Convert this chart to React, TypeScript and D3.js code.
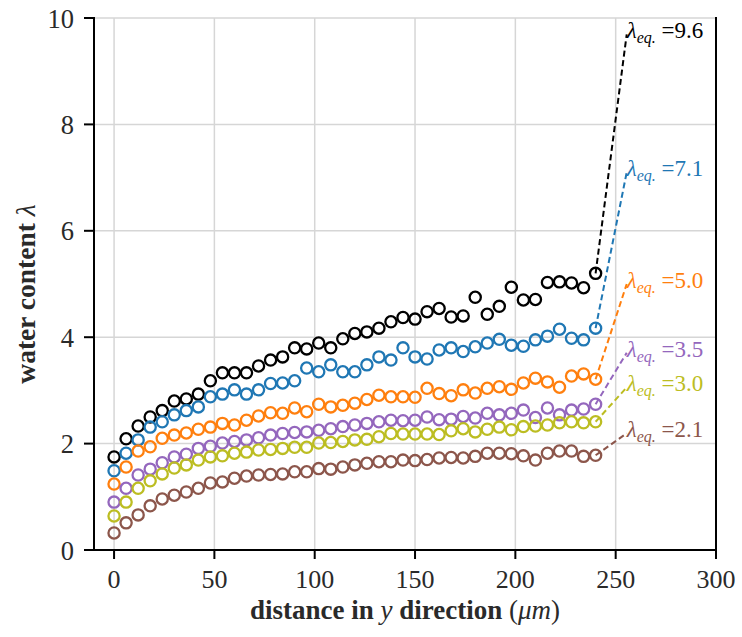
import React from "react";
import * as d3 from "d3";

const distances = [0, 6, 12, 18, 24, 30, 36, 42, 48, 54, 60, 66, 72, 78, 84, 90, 96, 102, 108, 114, 120, 126, 132, 138, 144, 150, 156, 162, 168, 174, 180, 186, 192, 198, 204, 210, 216, 222, 228, 234, 240];

const lambda96 = [1.75, 2.09, 2.33, 2.50, 2.62, 2.80, 2.84, 2.93, 3.18, 3.33, 3.33, 3.33, 3.46, 3.57, 3.63, 3.80, 3.78, 3.89, 3.80, 3.97, 4.07, 4.10, 4.17, 4.29, 4.37, 4.34, 4.48, 4.54, 4.38, 4.40, 4.75, 4.43, 4.58, 4.94, 4.70, 4.71, 5.03, 5.04, 5.02, 4.93, 5.20];
const lambda71 = [1.49, 1.82, 2.07, 2.31, 2.41, 2.54, 2.62, 2.69, 2.88, 2.93, 3.01, 2.93, 3.01, 3.13, 3.14, 3.18, 3.42, 3.35, 3.48, 3.35, 3.35, 3.48, 3.63, 3.57, 3.80, 3.63, 3.59, 3.76, 3.80, 3.73, 3.82, 3.89, 3.96, 3.85, 3.83, 3.95, 4.02, 4.15, 3.98, 3.95, 4.17];
const lambda50 = [1.24, 1.56, 1.86, 1.94, 2.10, 2.16, 2.20, 2.27, 2.31, 2.38, 2.35, 2.44, 2.52, 2.58, 2.57, 2.67, 2.60, 2.74, 2.69, 2.72, 2.76, 2.83, 2.91, 2.88, 2.88, 2.87, 3.04, 2.94, 2.90, 3.01, 2.95, 3.04, 3.07, 3.02, 3.14, 3.23, 3.16, 3.06, 3.27, 3.31, 3.21];
const lambda35 = [0.90, 1.16, 1.41, 1.52, 1.64, 1.75, 1.80, 1.91, 1.95, 2.01, 2.04, 2.07, 2.11, 2.16, 2.19, 2.21, 2.22, 2.25, 2.28, 2.32, 2.35, 2.38, 2.41, 2.44, 2.43, 2.44, 2.50, 2.45, 2.46, 2.51, 2.48, 2.57, 2.54, 2.57, 2.63, 2.49, 2.67, 2.54, 2.63, 2.65, 2.74];
const lambda30 = [0.64, 0.90, 1.16, 1.30, 1.43, 1.54, 1.60, 1.69, 1.75, 1.77, 1.82, 1.84, 1.88, 1.89, 1.91, 1.93, 1.93, 2.01, 2.02, 2.04, 2.07, 2.08, 2.13, 2.19, 2.18, 2.18, 2.18, 2.17, 2.24, 2.28, 2.22, 2.27, 2.31, 2.26, 2.32, 2.33, 2.35, 2.39, 2.41, 2.39, 2.41];
const lambda21 = [0.32, 0.51, 0.66, 0.83, 0.96, 1.03, 1.09, 1.16, 1.26, 1.28, 1.35, 1.39, 1.41, 1.42, 1.43, 1.47, 1.47, 1.53, 1.52, 1.56, 1.60, 1.63, 1.66, 1.66, 1.69, 1.68, 1.70, 1.73, 1.74, 1.73, 1.76, 1.82, 1.82, 1.81, 1.77, 1.69, 1.82, 1.86, 1.86, 1.76, 1.78];

const seriesValues = [lambda96, lambda71, lambda50, lambda35, lambda30, lambda21];
const eqValues = [9.6, 7.1, 5.0, 3.5, 3.0, 2.1];
const eqLabels = ["9.6", "7.1", "5.0", "3.5", "3.0", "2.1"];
const seriesColors = ["#000000", "#1f77b4", "#ff7f0e", "#9467bd", "#bcbd22", "#8c564b"];
const eqDistance = 255.5;

const xTicks = [0, 50, 100, 150, 200, 250, 300];
const yTicks = [0, 2, 4, 6, 8, 10];

// label placement nudge (pixels, styling only) to avoid overlapping labels
const labelNudge = [-5, 0, 0, -11, -3, -5];

export default function App() {
  const W = 742, H = 637;
  const left = 94, right = 716, top = 18, bottom = 550;
  const x = d3.scaleLinear().domain([-10, 300]).range([left, right]);
  const y = d3.scaleLinear().domain([0, 10]).range([bottom, top]);
  const font = "'Liberation Serif', 'Times New Roman', serif";
  const grid = "#d6d6d6";
  const textCol = "#2a2a2a";

  return (
    <svg width={W} height={H} style={{ position: "absolute", left: 0, top: 0, background: "#fff" }} fontFamily={font}>
      <rect x={0} y={0} width={W} height={H} fill="#fff" />
      {/* grid */}
      {xTicks.map((t) => (
        <line key={"gx" + t} x1={x(t)} x2={x(t)} y1={top} y2={bottom} stroke={grid} strokeWidth={1.5} />
      ))}
      {yTicks.map((t) => (
        <line key={"gy" + t} x1={left} x2={right} y1={y(t)} y2={y(t)} stroke={grid} strokeWidth={1.5} />
      ))}
      {/* spines */}
      <line x1={left} x2={left} y1={top - 1} y2={bottom + 1} stroke="#000" strokeWidth={2} />
      <line x1={right} x2={right} y1={top - 1} y2={bottom + 1} stroke="#000" strokeWidth={2} />
      <line x1={left - 1} x2={right + 1} y1={bottom} y2={bottom} stroke="#000" strokeWidth={2} />
      {/* ticks */}
      {xTicks.map((t) => (
        <g key={"tx" + t}>
          <line x1={x(t)} x2={x(t)} y1={bottom} y2={bottom + 9} stroke="#000" strokeWidth={2} />
          <text x={x(t)} y={bottom + 38} textAnchor="middle" fontSize={26} fill={textCol}>{t}</text>
        </g>
      ))}
      {yTicks.map((t) => (
        <g key={"ty" + t}>
          <line x1={left - 10} x2={left} y1={y(t)} y2={y(t)} stroke="#000" strokeWidth={2} />
          <text x={left - 20} y={y(t) + 9.5} textAnchor="end" fontSize={26.5} fill={textCol}>{t}</text>
        </g>
      ))}
      {/* axis labels */}
      <text x={(left + right) / 2} y={619} textAnchor="middle" fontSize={27} fill={textCol}>
        <tspan fontWeight="bold">distance in </tspan>
        <tspan fontStyle="italic">y</tspan>
        <tspan fontWeight="bold"> direction </tspan>
        <tspan>(</tspan>
        <tspan fontStyle="italic">μm</tspan>
        <tspan>)</tspan>
      </text>
      <text transform={`translate(35, 294) rotate(-90)`} textAnchor="middle" fontSize={27.5} fill={textCol}>
        <tspan fontWeight="bold">water content </tspan>
        <tspan fontStyle="italic">λ</tspan>
      </text>
      {/* dashed connectors and labels */}
      {seriesValues.map((vals, si) => {
        const lastX = distances[distances.length - 1];
        const lastY = vals[vals.length - 1];
        const ex = x(eqDistance);
        const ey = y(eqValues[si]) + labelNudge[si];
        return (
          <g key={"eq" + si}>
            <line x1={x(lastX)} y1={y(lastY)} x2={ex} y2={ey} stroke={seriesColors[si]} strokeWidth={2} strokeDasharray="6,3.5" />
            <text x={ex} y={ey + 4} fontSize={23} fill={seriesColors[si]}>
              <tspan fontStyle="italic">λ</tspan>
              <tspan fontStyle="italic" fontSize={16} dy={5}>eq.</tspan>
              <tspan dy={-5}> ={eqLabels[si]}</tspan>
            </text>
          </g>
        );
      })}
      {/* markers */}
      {seriesValues.map((vals, si) => (
        <g key={"s" + si}>
          {vals.map((v, i) => (
            <circle key={i} cx={x(distances[i])} cy={y(v)} r={5.6} fill="none" stroke={seriesColors[si]} strokeWidth={2.3} />
          ))}
        </g>
      ))}
    </svg>
  );
}
